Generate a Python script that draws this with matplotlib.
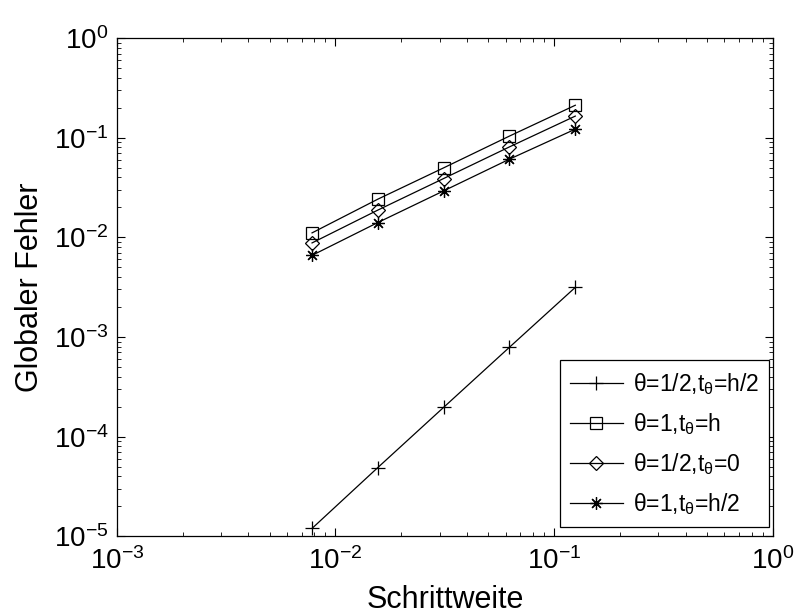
import matplotlib
matplotlib.use("Agg")
import matplotlib.pyplot as plt

plt.rcParams['font.family'] = ['Liberation Sans', 'DejaVu Sans']
plt.rcParams['mathtext.fontset'] = 'custom'
plt.rcParams['mathtext.rm'] = 'Liberation Sans'
plt.rcParams['mathtext.it'] = 'Liberation Sans'
plt.rcParams['mathtext.bf'] = 'Liberation Sans'
plt.rcParams['mathtext.sf'] = 'Liberation Sans'

# data
h = [1/128, 1/64, 1/32, 1/16, 1/8]
err_half_h2 = [1.2e-5, 4.9e-5, 1.97e-4, 7.9e-4, 3.15e-3]
err_one_h = [0.0111, 0.0242, 0.0499, 0.104, 0.212]
err_half_0 = [0.0088, 0.0188, 0.039, 0.081, 0.165]
err_one_h2 = [0.0066, 0.0141, 0.0293, 0.061, 0.122]
labels = [r'θ=1/2,t$_{θ}$=h/2', r'θ=1,t$_{θ}$=h', r'θ=1/2,t$_{θ}$=0', r'θ=1,t$_{θ}$=h/2']
markers = ['+', 's', 'D', (8, 2, 0)]
msizes = [10, 8, 7, 9]

fig = plt.figure(figsize=(7.95, 6.15), dpi=100)
ax = fig.add_axes([0.147, 0.128, 0.825, 0.81])

for y, lab, m, ms in zip([err_half_h2, err_one_h, err_half_0, err_one_h2], labels, markers, msizes):
    ax.loglog(h, y, color='black', lw=0.9, marker=m, ms=ms, mfc='none',
              mec='black', mew=0.9, label=lab)

ax.set_xlim(1e-3, 1e0)
ax.set_ylim(1e-5, 1e0)
ax.set_xlabel('Schrittweite', fontsize=22)
ax.set_ylabel('Globaler Fehler', fontsize=22)
ax.xaxis.set_label_coords(0.5, -0.097)
ax.yaxis.set_label_coords(-0.110, 0.5)
ax.tick_params(which='both', direction='in', top=True, right=True, labelsize=20)
ax.tick_params(which='major', length=6, width=0.8)
ax.tick_params(which='minor', length=3, width=0.6)
ax.tick_params(axis='x', pad=8)
ax.tick_params(axis='y', pad=6)
for s in ax.spines.values():
    s.set_linewidth(0.9)

leg = ax.legend(loc='lower right', bbox_to_anchor=(0.995, 0.018), borderaxespad=0,
                fontsize=16.5, fancybox=False, framealpha=1, edgecolor='black',
                handlelength=2.3, labelspacing=0.62, borderpad=0.45, handletextpad=0.45)
leg.get_frame().set_linewidth(0.9)

fig.savefig('out.png', dpi=100)
